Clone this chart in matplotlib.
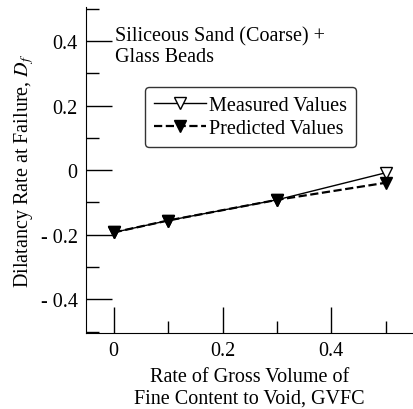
import matplotlib.pyplot as plt
from matplotlib.ticker import MultipleLocator

plt.rcParams['font.family'] = ['Liberation Serif', 'DejaVu Serif']
plt.rcParams['mathtext.fontset'] = 'stix'

gvfc = [0.0, 0.1, 0.3, 0.5]
measured = [-0.193, -0.156, -0.092, -0.008]
predicted = [-0.193, -0.156, -0.092, -0.039]

fig = plt.figure(figsize=(4.13, 4.10), dpi=100)
ax = fig.add_axes([0.208, 0.185, 0.792, 0.795])

ax.plot(gvfc, measured, '-', color='black', lw=1.0, marker='v',
        mfc='white', mec='black', ms=8, label='Measured Values')
ax.plot(gvfc, predicted, '--', color='black', lw=1.6, marker='v',
        mfc='black', mec='black', ms=8, label='Predicted Values')

ax.set_xlim(-0.051, 0.55)
ax.set_ylim(-0.505, 0.505)
ax.spines['top'].set_visible(False)
ax.spines['right'].set_visible(False)

ax.xaxis.set_major_locator(MultipleLocator(0.2))
ax.xaxis.set_minor_locator(MultipleLocator(0.1))
ax.yaxis.set_major_locator(MultipleLocator(0.2))
ax.yaxis.set_minor_locator(MultipleLocator(0.1))
ax.tick_params(which='major', direction='in', length=19, width=1.0, labelsize=14.5, pad=6)
ax.tick_params(which='minor', direction='in', length=9, width=1.0)

ax.set_xticks([0, 0.2, 0.4])
ax.set_xticklabels(['0', '0.2', '0.4'])
ax.set_yticks([-0.4, -0.2, 0, 0.2, 0.4])
ax.set_yticklabels(['- 0.4', '- 0.2', '0', '0.2', '0.4'])

ax.set_xlabel('Rate of Gross Volume of\nFine Content to Void, GVFC', fontsize=14.5,
              linespacing=1.15, labelpad=5)
ax.set_ylabel('Dilatancy Rate at Failure, $D_f$', fontsize=14.5, labelpad=3)

ax.text(0.002, 0.445, 'Siliceous Sand (Coarse) +\nGlass Beads', fontsize=14.5,
        va='top', ha='left', linespacing=1.05)

leg = ax.legend(loc='upper left', bbox_to_anchor=(0.18, 0.755), fontsize=14.5,
                frameon=True, fancybox=True, edgecolor='black', handlelength=2.6,
                handletextpad=0.15, borderpad=0.45, labelspacing=0.2,
                borderaxespad=0)
leg.get_frame().set_linewidth(1.0)

fig.savefig('out.png', dpi=100)
